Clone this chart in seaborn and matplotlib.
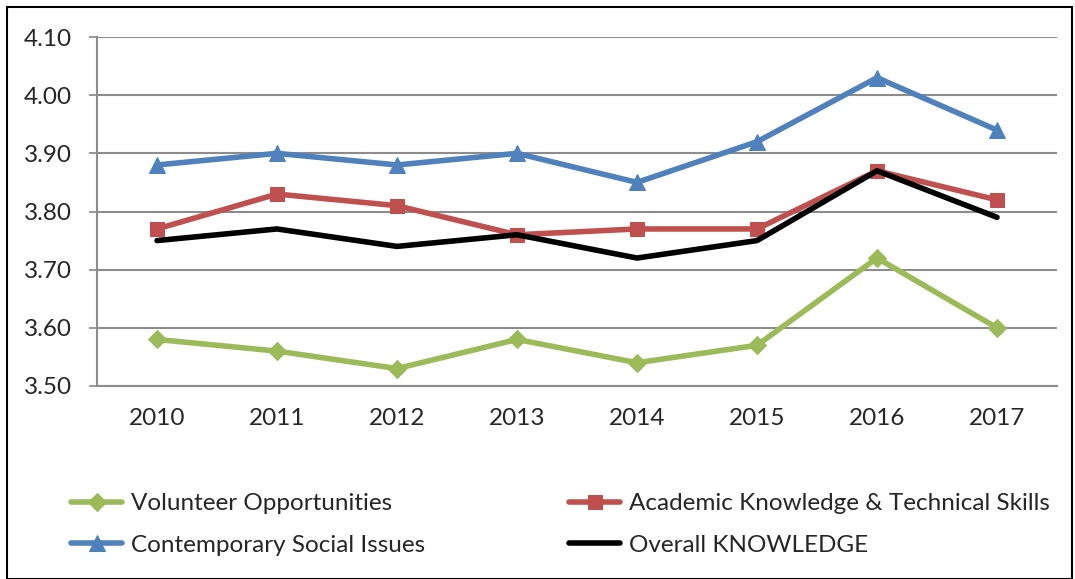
import matplotlib
matplotlib.use("Agg")
import matplotlib.pyplot as plt
import seaborn as sns
import numpy as np
from matplotlib.patches import Rectangle

years = ["2010", "2011", "2012", "2013", "2014", "2015", "2016", "2017"]
volunteer = [3.58, 3.56, 3.53, 3.58, 3.54, 3.57, 3.72, 3.60]
academic = [3.77, 3.83, 3.81, 3.76, 3.77, 3.77, 3.87, 3.82]
contemporary = [3.88, 3.90, 3.88, 3.90, 3.85, 3.92, 4.03, 3.94]
overall = [3.75, 3.77, 3.74, 3.76, 3.72, 3.75, 3.87, 3.79]
yticks = [3.50, 3.60, 3.70, 3.80, 3.90, 4.00, 4.10]

sns.set_style("white")
plt.rcParams['font.family'] = ['Lato', 'DejaVu Sans']

FS = 17.5
fig = plt.figure(figsize=(10.75, 5.79), dpi=100)
ax = fig.add_axes([97/1075, 1 - 386/579, 960/1075, 349/579])

x = np.arange(len(years))
series = [
    ("Volunteer Opportunities", volunteer, "#9BBB59", "D", 9),
    ("Contemporary Social Issues", contemporary, "#4F81BD", "^", 11),
    ("Academic Knowledge & Technical Skills", academic, "#C0504D", "s", 10),
    ("Overall KNOWLEDGE", overall, "#000000", None, 0),
]
for name, vals, col, mk, ms in series:
    sns.lineplot(x=x, y=vals, ax=ax, color=col, linewidth=4, marker=mk,
                 markersize=ms, markeredgecolor=col, label=name, legend=False,
                 zorder=3 if mk else 4)
handles = ax.get_lines()

ax.set_xlim(-0.5, 7.5)
ax.set_ylim(3.50, 4.10)
ax.set_yticks(yticks)
ax.set_yticklabels([f"{v:.2f}" for v in yticks], fontsize=FS)
ax.set_xticks(x)
ax.set_xticklabels(years, fontsize=FS)
ax.set_xticks(np.arange(-0.5, 8.0, 1.0), minor=True)
ax.tick_params(axis='x', which='major', length=0, pad=16)
ax.tick_params(axis='x', which='minor', length=6, width=1.2, color='#888888', direction='out')
ax.tick_params(axis='y', which='major', length=6, width=1.2, color='#888888', direction='out', left=True, pad=12)
ax.yaxis.grid(True, color='#8c8c8c', linewidth=1.5)
ax.set_axisbelow(True)
for s in ['top', 'right']:
    ax.spines[s].set_visible(False)
for s in ['left', 'bottom']:
    ax.spines[s].set_color('#8c8c8c')
    ax.spines[s].set_linewidth(1.5)

leg = fig.legend(handles=handles, labels=[s[0] for s in series], ncol=2,
                 loc='upper left', bbox_to_anchor=(54/1075, 1 - 476/579),
                 frameon=False, fontsize=FS, handlelength=2.1, handletextpad=0.35,
                 columnspacing=5.95, labelspacing=0.85, borderpad=0.2)

fig.patches.append(Rectangle((7/1075, 0), 1065/1075, 1 - 7/579, transform=fig.transFigure,
                             fill=False, edgecolor='black', linewidth=1.5))

fig.savefig("out.png", dpi=100)
